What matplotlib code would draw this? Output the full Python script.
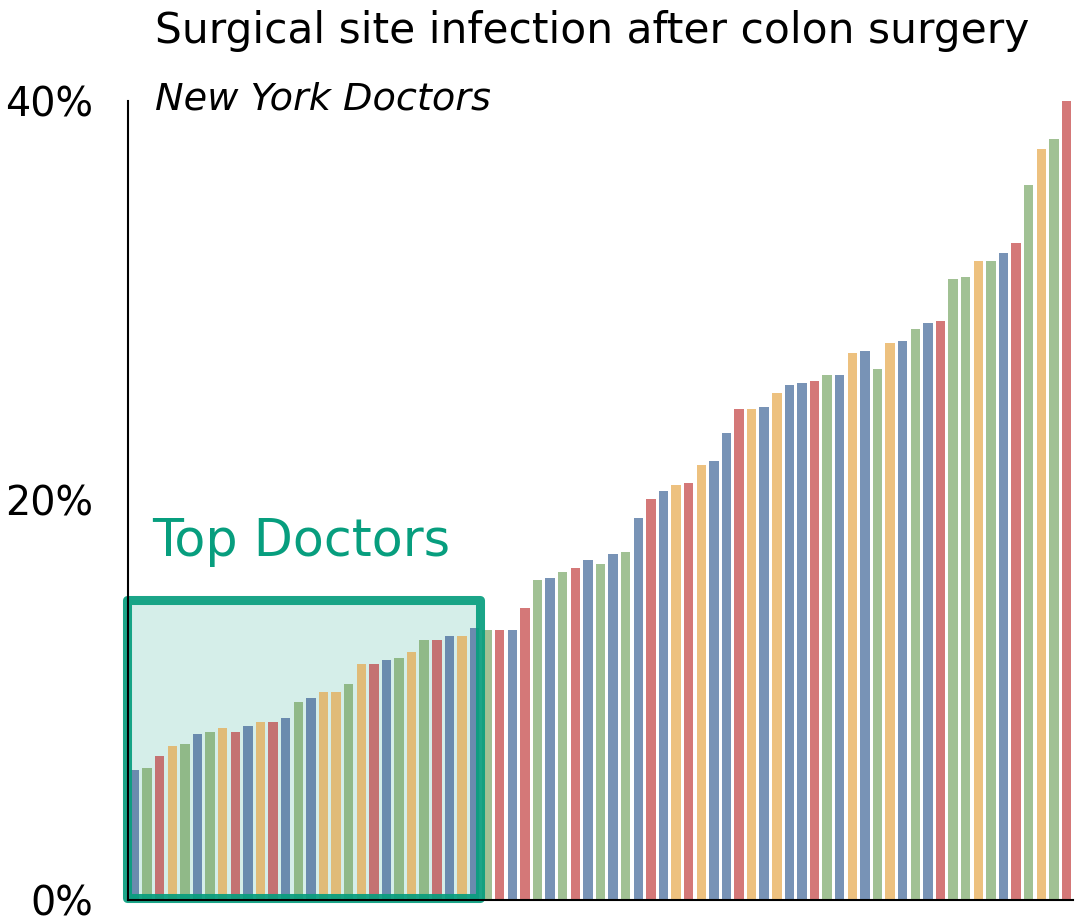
import numpy as np
import matplotlib
matplotlib.use('Agg')
import matplotlib.pyplot as plt
from matplotlib.patches import Rectangle
from matplotlib.colors import to_rgba

# infection rate per doctor, sorted (%)
rates = [6.5, 6.6, 7.2, 7.7, 7.8, 8.3, 8.4, 8.6, 8.4, 8.7,
         8.9, 8.9, 9.1, 9.9, 10.1, 10.4, 10.4, 10.8, 11.8, 11.8,
         12.0, 12.1, 12.4, 13.0, 13.0, 13.2, 13.2, 13.6, 13.5, 13.5,
         13.5, 14.6, 16.0, 16.1, 16.4, 16.6, 17.0, 16.8, 17.3, 17.4,
         19.1, 20.1, 20.5, 20.8, 20.9, 21.8, 22.0, 23.4, 24.6, 24.6,
         24.7, 25.4, 25.8, 25.9, 26.0, 26.3, 26.3, 27.4, 27.5, 26.6,
         27.9, 28.0, 28.6, 28.9, 29.0, 31.1, 31.2, 32.0, 32.0, 32.4,
         32.9, 35.8, 37.6, 38.1, 40.0]
groups = list('bgrygbgyrb' 'yrbgbyygyr' 'bgygrbybgr'
              'brgbgrbgbg' 'brbyrybbry' 'bybbrgbybg'
              'ybgbrggygb' 'rgygr')
n_top = 28
yticks = [0, 20, 40]
ytick_labels = ['0%', '20%', '40%']

cols = {'b': '#7893b6', 'g': '#a1c194', 'r': '#d47878', 'y': '#edc17f'}
cols_in = {'b': '#6a8bae', 'g': '#90b988', 'r': '#c47272', 'y': '#e0bb78'}
teal = '#079e7e'

plt.rcParams['font.family'] = 'DejaVu Sans'

fig = plt.figure(figsize=(10.76, 9.23), dpi=100)
ax = fig.add_axes([128/1076, 1 - 900/923, 945/1076, 799/923])

x = np.arange(len(rates))
colours = [cols_in[g] if i < n_top else cols[g] for i, g in enumerate(groups)]
ax.bar(x, rates, width=0.75, color=colours, zorder=2)

ax.set_xlim(-0.52, len(rates) - 0.48)
ax.set_ylim(0, 40)

# highlight box around the best doctors
top_h = 15.0
box_x0, box_x1 = -0.6, n_top - 0.6
ax.add_patch(Rectangle((box_x0, 0.12), box_x1 - box_x0, top_h - 0.12,
                       facecolor=to_rgba(teal, 0.17), edgecolor='none',
                       zorder=1, clip_on=False))
ax.add_patch(Rectangle((box_x0, 0.12), box_x1 - box_x0, top_h - 0.12,
                       facecolor='none', edgecolor=to_rgba(teal, 0.92),
                       linewidth=6.5, joinstyle='round', zorder=3,
                       clip_on=False))
fig.text(152/1076, 1 - 556/923, 'Top Doctors', color=teal, fontsize=36.5,
         va='baseline', ha='left')

ax.set_xticks([])
ax.set_yticks(yticks)
ax.set_yticklabels(ytick_labels, fontsize=28.5)
ax.tick_params(axis='y', length=0, pad=25)
for s in ['top', 'right']:
    ax.spines[s].set_visible(False)
for s in ['left', 'bottom']:
    ax.spines[s].set_linewidth(1.5)
    ax.spines[s].set_zorder(5)

fig.text(155/1076, 1 - 43/923, 'Surgical site infection after colon surgery',
         fontsize=30.5, va='baseline', ha='left')
fig.text(155/1076, 1 - 110/923, 'New York Doctors', fontsize=27.5,
         style='italic', va='baseline', ha='left')

plt.savefig('out.png', dpi=100)
